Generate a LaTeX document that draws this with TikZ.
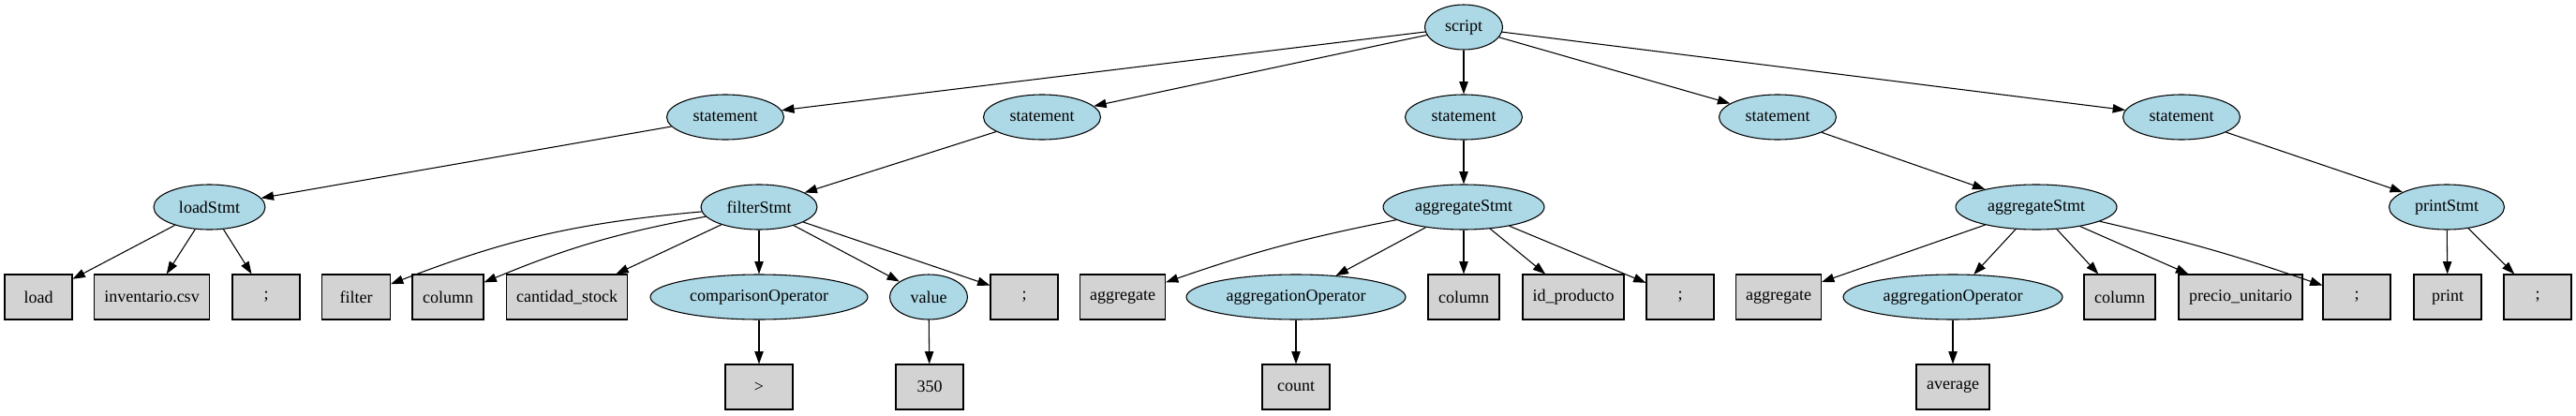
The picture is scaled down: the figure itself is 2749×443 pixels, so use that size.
\documentclass[tikz,border=0pt]{standalone}
\usepackage{fontspec}
\setmainfont{Liberation Serif}
\usetikzlibrary{shapes.geometric,arrows.meta}
\definecolor{lb}{HTML}{ADD8E6}
\definecolor{lg}{HTML}{D3D3D3}
\begin{document}
\begin{tikzpicture}[x=0.75pt,y=-0.75pt,
  every node/.style={font=\fontsize{13.5}{16}\selectfont},
  ell/.style={ellipse,draw,fill=lb,line width=0.8pt,minimum height=36pt,inner sep=0pt},
  term/.style={rectangle,draw,fill=lg,line width=0.8pt,minimum height=36pt,inner sep=0pt},
  edge/.style={-{Triangle[length=10pt,width=7pt]},line width=0.8pt}]
\useasboundingbox (0,0) rectangle (2749,443);
% level 0
\node[ell,minimum width=62.25pt] (script) at (1562,29) {script};
% level 1
\node[ell,minimum width=93.75pt] (s1) at (774,125) {statement};
\node[ell,minimum width=93.75pt] (s2) at (1112,125) {statement};
\node[ell,minimum width=93.75pt] (s3) at (1562,125) {statement};
\node[ell,minimum width=93.75pt] (s4) at (1897,125) {statement};
\node[ell,minimum width=93.75pt] (s5) at (2328,125) {statement};
% level 2
\node[ell,minimum width=89.25pt] (load) at (223.5,221) {loadStmt};
\node[ell,minimum width=93pt] (filt) at (810,221) {filterStmt};
\node[ell,minimum width=129pt] (agg1) at (1562,221) {aggregateStmt};
\node[ell,minimum width=129pt] (agg2) at (2173,221) {aggregateStmt};
\node[ell,minimum width=92.25pt] (prt) at (2611,221) {printStmt};
% level 3
\node[term,minimum width=54pt] (t1) at (41,317) {load};
\node[term,minimum width=92.25pt] (t2) at (162,317) {inventario.csv};
\node[term,minimum width=54pt] (t3) at (284,317) {;};
\node[term,minimum width=54.75pt] (f1) at (380,317) {filter};
\node[term,minimum width=57pt] (f2) at (478,317) {column};
\node[term,minimum width=96.75pt] (f3) at (605,317) {cantidad\_stock};
\node[ell,minimum width=174pt] (f4) at (810,317) {comparisonOperator};
\node[ell,minimum width=62.25pt] (f5) at (991,317) {value};
\node[term,minimum width=54pt] (f6) at (1093,317) {;};
\node[term,minimum width=68.25pt] (a1) at (1198,317) {aggregate};
\node[ell,minimum width=175.5pt] (a2) at (1383,317) {aggregationOperator};
\node[term,minimum width=57pt] (a3) at (1562,317) {column};
\node[term,minimum width=81pt] (a4) at (1679,317) {id\_producto};
\node[term,minimum width=54pt] (a5) at (1793,317) {;};
\node[term,minimum width=68.25pt] (b1) at (1898,317) {aggregate};
\node[ell,minimum width=175.5pt] (b2) at (2084,317) {aggregationOperator};
\node[term,minimum width=57pt] (b3) at (2262,317) {column};
\node[term,minimum width=99pt] (b4) at (2391,317) {precio\_unitario};
\node[term,minimum width=54pt] (b5) at (2515,317) {;};
\node[term,minimum width=54pt] (p1) at (2612,317) {print};
\node[term,minimum width=54pt] (p2) at (2708,317) {;};
% level 4
\node[term,minimum width=54pt] (g1) at (810,413) {>};
\node[term,minimum width=54pt] (g2) at (992,413) {350};
\node[term,minimum width=54pt] (g3) at (1383,413) {count};
\node[term,minimum width=58.5pt] (g4) at (2084,413) {average};
% edges
\foreach \s in {s1,s2,s3,s4,s5} \draw[edge] (script) -- (\s);
\draw[edge] (s1) -- (load);
\draw[edge] (s2) -- (filt);
\draw[edge] (s3) -- (agg1);
\draw[edge] (s4) -- (agg2);
\draw[edge] (s5) -- (prt);
\foreach \t in {t1,t2,t3} \draw[edge] (load) -- (\t);
\draw[edge] (filt) to[bend right=8] (f1);
\draw[edge] (filt) to[bend right=6] (f2);
\foreach \t in {f3,f4,f5,f6} \draw[edge] (filt) -- (\t);
\draw[edge] (agg1) to[bend right=4] (a1);
\foreach \t in {a2,a3,a4,a5} \draw[edge] (agg1) -- (\t);
\foreach \t in {b1,b2,b3,b4} \draw[edge] (agg2) -- (\t);
\draw[edge] (agg2) to[bend left=3] (b5);
\foreach \t in {p1,p2} \draw[edge] (prt) -- (\t);
\draw[edge] (f4) -- (g1);
\draw[edge] (f5) -- (g2);
\draw[edge] (a2) -- (g3);
\draw[edge] (b2) -- (g4);
\end{tikzpicture}
\end{document}
